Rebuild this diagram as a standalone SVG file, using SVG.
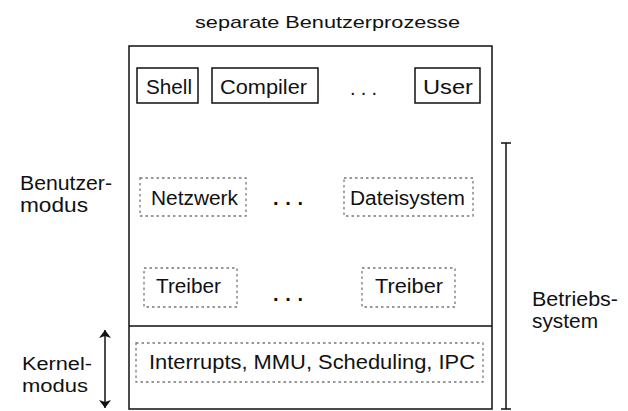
<svg xmlns="http://www.w3.org/2000/svg" width="628" height="411" viewBox="0 0 628 411">
<style>
text{font-family:"Liberation Sans",Arial,sans-serif;font-size:20px;fill:#111}
.title{font-size:17px}
.small{font-size:18px}
.box{fill:none;stroke:#111;stroke-width:1.5}
.dbox{fill:none;stroke:#777;stroke-width:1.3;stroke-dasharray:2.5 3}
.ln{stroke:#111;stroke-width:1.5;fill:none}
.dots{font-weight:bold}
</style>
<defs>
<marker id="ah" viewBox="0 0 8 12" refX="8" refY="6" markerWidth="8" markerHeight="12" orient="auto-start-reverse" markerUnits="userSpaceOnUse">
<path d="M0,0 L8,6 L0,12 L2,6 z" fill="#111"/>
</marker>
</defs>
<rect width="628" height="411" fill="#fff"/>
<text class="title" x="195" y="28" textLength="265" lengthAdjust="spacingAndGlyphs">separate Benutzerprozesse</text>
<g id="system">
<rect class="box" x="129" y="46" width="363" height="363"/>
<line class="ln" x1="129" y1="326" x2="492" y2="326"/>
</g>
<g id="shell"><rect class="box" x="137" y="68" width="61" height="35"/><text x="146" y="94" textLength="46" lengthAdjust="spacingAndGlyphs">Shell</text></g>
<g id="compiler"><rect class="box" x="212" y="68" width="106" height="35"/><text x="220" y="94" textLength="87" lengthAdjust="spacingAndGlyphs">Compiler</text></g>
<g id="dots1"><text x="350" y="95" font-size="16" textLength="27" lengthAdjust="spacing">. . .</text></g>
<g id="user"><rect class="box" x="415" y="68" width="65" height="35"/><text x="423" y="94" textLength="50" lengthAdjust="spacingAndGlyphs">User</text></g>
<g id="netzwerk"><rect class="dbox" x="140" y="178" width="106" height="38"/><text x="151" y="205" textLength="87" lengthAdjust="spacingAndGlyphs">Netzwerk</text></g>
<g id="dots2"><text class="dots" x="273" y="205" textLength="30" lengthAdjust="spacing">...</text></g>
<g id="dateisystem"><rect class="dbox" x="344" y="178" width="129" height="38"/><text x="350" y="205" textLength="115" lengthAdjust="spacingAndGlyphs">Dateisystem</text></g>
<g id="treiber1"><rect class="dbox" x="144" y="268" width="93" height="39"/><text x="156" y="293" textLength="65" lengthAdjust="spacingAndGlyphs">Treiber</text></g>
<g id="dots3"><text class="dots" x="273" y="301" textLength="30" lengthAdjust="spacing">...</text></g>
<g id="treiber2"><rect class="dbox" x="362" y="268" width="93" height="39"/><text x="375" y="293" textLength="68" lengthAdjust="spacingAndGlyphs">Treiber</text></g>
<g id="kernel"><rect class="dbox" x="136" y="343" width="347" height="39"/><text x="149" y="369" textLength="326" lengthAdjust="spacingAndGlyphs">Interrupts, MMU, Scheduling, IPC</text></g>
<g id="benutzermodus"><text x="20" y="190" textLength="92" lengthAdjust="spacingAndGlyphs">Benutzer-</text><text x="20" y="212" textLength="68" lengthAdjust="spacingAndGlyphs">modus</text></g>
<g id="kernelmodus"><text class="small" x="22" y="370" textLength="70" lengthAdjust="spacingAndGlyphs">Kernel-</text><text class="small" x="22" y="392" textLength="66" lengthAdjust="spacingAndGlyphs">modus</text></g>
<g id="betriebssystem"><text x="532" y="306" textLength="86" lengthAdjust="spacingAndGlyphs">Betriebs-</text><text x="532" y="328" textLength="66" lengthAdjust="spacingAndGlyphs">system</text></g>
<g id="connectors">
<line class="ln" x1="105" y1="330" x2="105" y2="408" marker-start="url(#ah)" marker-end="url(#ah)"/>
<line class="ln" x1="506" y1="143" x2="506" y2="409"/>
<line class="ln" x1="501" y1="143" x2="511" y2="143"/>
<line class="ln" x1="501" y1="409" x2="511" y2="409"/>
</g>
</svg>
